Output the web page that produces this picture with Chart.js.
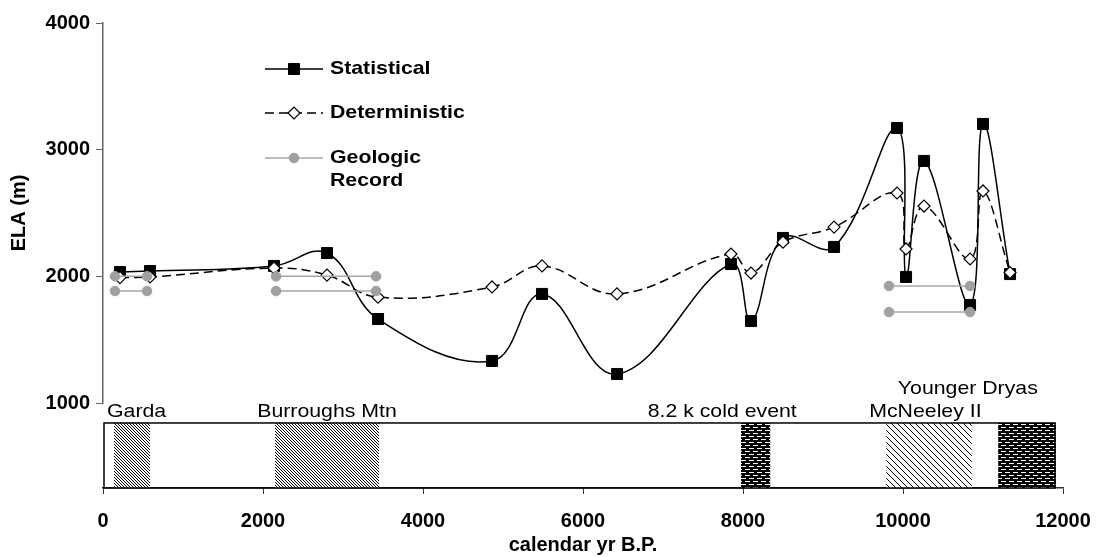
<!DOCTYPE html>
<html>
<head>
<meta charset="utf-8">
<title>ELA through the Holocene</title>
<script src="https://cdn.jsdelivr.net/npm/chart.js@4.4.1/dist/chart.umd.min.js"></script>
<style>
  html, body { margin: 0; padding: 0; background: #fff; }
  #wrap { width: 1097px; height: 557px; }
</style>
</head>
<body>
<div id="wrap"><canvas id="elaChart" width="1097" height="557"></canvas></div>
<script>
// model runs: calendar yr B.P. and ELA (m)
const years = [212, 588, 2138, 2800, 3438, 4863, 5488, 6425, 7850, 8100, 8500, 9138, 9925, 10038, 10263, 10838, 11000, 11338];
const statisticalELA = [2034, 2042, 2082, 2184, 1663, 1332, 1861, 1229, 2097, 1647, 2303, 2232, 3171, 1995, 2911, 1774, 3203, 2018];
const deterministicELA = [1990, 1995, 2065, 2010, 1835, 1916, 2082, 1861, 2176, 2026, 2270, 2389, 2658, 2216, 2555, 2137, 2674, 2030];

// geologic record: age range of each advance, with a high and a low ELA estimate
const geoStart = [150, 2163, 9825];
const geoEnd = [550, 3413, 10838];
const geoHigh = [2000, 2000, 1924];
const geoLow = [1884, 1884, 1718];

// glacial periods shown in the bar under the plot
const periodNames = ['Garda', 'Burroughs Mtn', '8.2 k cold event', 'McNeeley II', 'Younger Dryas'];
const periodStart = [137, 2150, 7975, 9790, 11190];
const periodEnd = [587, 3450, 8340, 10860, 11910];
const periodFill = ['hatch', 'hatch', 'brick', 'light', 'brick'];
const periodLabelX = [420, 2800, 7740, 10280, 10810];
const periodLabelRow = [0, 0, 0, 0, 1];

const FONT = "'Liberation Sans', Arial, sans-serif";
Chart.defaults.font.family = FONT;
Chart.defaults.color = '#000';

// geologic segments, broken apart with empty points
const geoPoints = [];
geoStart.forEach((s, i) => {
  geoPoints.push({x: s, y: geoHigh[i]}, {x: geoEnd[i], y: geoHigh[i]}, {x: geoEnd[i], y: null});
  geoPoints.push({x: s, y: geoLow[i]}, {x: geoEnd[i], y: geoLow[i]}, {x: geoEnd[i], y: null});
});

function makePattern(ctx, kind) {
  const c = document.createElement('canvas');
  const g = c.getContext('2d');
  if (kind === 'brick') {
    c.width = 8; c.height = 6;
    g.fillStyle = '#000'; g.fillRect(0, 0, 8, 6);
    g.fillStyle = '#fff';
    g.fillRect(1, 1, 5, 1);
    g.fillRect(5, 4, 3, 1); g.fillRect(0, 4, 2, 1);
  } else if (kind === 'light') {
    c.width = 6; c.height = 6;
    g.fillStyle = '#fff'; g.fillRect(0, 0, 6, 6);
    g.fillStyle = '#000';
    for (let y = 0; y < 6; y++) for (let x = 0; x < 6; x++) {
      if ((x - y + 6) % 3 === 0 && (x + y) % 2 === 0) g.fillRect(x, y, 1, 1);
    }
  } else {
    c.width = 3; c.height = 3;
    g.fillStyle = '#fff'; g.fillRect(0, 0, 3, 3);
    g.fillStyle = '#000';
    for (let i = 0; i < 3; i++) g.fillRect(i, i, 1, 1);
  }
  return ctx.createPattern(c, 'repeat');
}

// text with a little horizontal stretch, like the original figure
function stretchText(ctx, text, x, y, font, align) {
  ctx.save();
  ctx.font = font;
  ctx.textAlign = align;
  ctx.textBaseline = 'middle';
  ctx.translate(x, y);
  ctx.scale(1.12, 1);
  ctx.fillStyle = '#000';
  ctx.fillText(text, 0, 0);
  ctx.restore();
}

const periodBar = {
  id: 'periodBar',
  beforeDatasetsDraw(chart) {
    const ctx = chart.ctx;
    const xs = chart.scales.x, yb = chart.scales.yb;
    const bottom = yb.getPixelForValue(0), top = yb.getPixelForValue(0.765);
    ctx.save();
    periodStart.forEach((s, i) => {
      const x0 = xs.getPixelForValue(s), x1 = xs.getPixelForValue(periodEnd[i]);
      ctx.fillStyle = makePattern(ctx, periodFill[i]);
      ctx.fillRect(x0, top, x1 - x0, bottom - top);
    });
    ctx.strokeStyle = '#000';
    ctx.lineWidth = 1.5;
    const left = xs.getPixelForValue(0), right = xs.getPixelForValue(11900);
    ctx.strokeRect(left + 1, top, right - left - 1, bottom - top);
    ctx.restore();
    const rows = [0.894, 1.165];
    periodNames.forEach((name, i) => {
      stretchText(ctx, name, xs.getPixelForValue(periodLabelX[i]),
        yb.getPixelForValue(rows[periodLabelRow[i]]), '19px ' + FONT, 'center');
    });
  }
};

const boxLegend = {
  id: 'boxLegend',
  afterDraw(chart) {
    const ctx = chart.ctx, area = chart.chartArea;
    const rows = [
      {ds: 0, text: ['Statistical'], dy: 46},
      {ds: 1, text: ['Deterministic'], dy: 90},
      {ds: 2, text: ['Geologic', 'Record'], dy: 135}
    ];
    rows.forEach(r => {
      const d = chart.data.datasets[r.ds];
      const y = area.top + r.dy;
      const x0 = area.left + 162, x1 = area.left + 220;
      ctx.save();
      ctx.strokeStyle = d.borderColor;
      ctx.lineWidth = d.borderWidth;
      ctx.setLineDash(d.borderDash || []);
      ctx.beginPath(); ctx.moveTo(x0, y); ctx.lineTo(x1, y); ctx.stroke();
      ctx.setLineDash([]);
      ctx.fillStyle = d.pointBackgroundColor;
      ctx.strokeStyle = d.pointBorderColor;
      ctx.lineWidth = d.pointBorderWidth;
      Chart.helpers.drawPoint(ctx, {pointStyle: d.pointStyle, radius: d.pointRadius,
        rotation: 0, borderWidth: d.pointBorderWidth}, (x0 + x1) / 2, y);
      ctx.restore();
      r.text.forEach((t, k) => stretchText(ctx, t, x1 + 7, y + k * 23, 'bold 19px ' + FONT, 'left'));
    });
  }
};

const plain = v => String(v);

new Chart(document.getElementById('elaChart'), {
  type: 'line',
  data: {
    datasets: [
      {
        label: 'Statistical',
        yAxisID: 'y',
        data: years.map((x, i) => ({x, y: statisticalELA[i]})),
        borderColor: '#000', borderWidth: 1.5, tension: 0.4,
        pointStyle: 'rect', pointRadius: 7.8,
        pointBackgroundColor: '#000', pointBorderColor: '#000', pointBorderWidth: 1,
        order: 2
      },
      {
        label: 'Deterministic',
        yAxisID: 'y',
        data: years.map((x, i) => ({x, y: deterministicELA[i]})),
        borderColor: '#000', borderWidth: 1.5, borderDash: [9, 5], tension: 0.4,
        pointStyle: 'rectRot', pointRadius: 6,
        pointBackgroundColor: '#fff', pointBorderColor: '#000', pointBorderWidth: 1.2,
        order: 1
      },
      {
        label: 'Geologic Record',
        yAxisID: 'y',
        data: geoPoints,
        borderColor: '#a6a6a6', borderWidth: 1.5, spanGaps: false,
        pointStyle: 'circle', pointRadius: 4.8,
        pointBackgroundColor: '#a0a0a0', pointBorderColor: '#a0a0a0', pointBorderWidth: 1,
        order: 0
      }
    ]
  },
  options: {
    responsive: false,
    animation: false,
    devicePixelRatio: 1,
    layout: {padding: {top: 23, right: 34, left: 0, bottom: 0}},
    plugins: {legend: {display: false}, tooltip: {enabled: false}},
    scales: {
      x: {
        type: 'linear', min: 0, max: 12000,
        ticks: {stepSize: 2000, padding: 15, callback: plain, font: {size: 20, weight: 'bold'}},
        grid: {drawOnChartArea: false, tickLength: 6, color: '#333', lineWidth: 1},
        border: {color: '#333', width: 1.5},
        title: {display: true, text: 'calendar yr B.P.', font: {size: 20, weight: 'bold'}, padding: 0},
        afterFit: s => { s.height = 69; s.paddingLeft = 0; s.paddingRight = 0; }
      },
      yb: {
        type: 'linear', position: 'left', stack: 'ela', stackWeight: 85,
        min: 0, max: 1, display: false
      },
      y: {
        type: 'linear', position: 'left', stack: 'ela', stackWeight: 380,
        min: 1000, max: 4000,
        ticks: {stepSize: 1000, padding: 6, callback: plain, font: {size: 20, weight: 'bold'}},
        grid: {drawOnChartArea: false, tickLength: 7, color: '#666', lineWidth: 1},
        border: {color: '#666', width: 1.5},
        title: {display: true, text: 'ELA (m)', font: {size: 20, weight: 'bold'}, padding: {top: 7, bottom: 0}},
        afterFit: s => { s.width = 103; }
      }
    }
  },
  plugins: [periodBar, boxLegend]
});
</script>
</body>
</html>
